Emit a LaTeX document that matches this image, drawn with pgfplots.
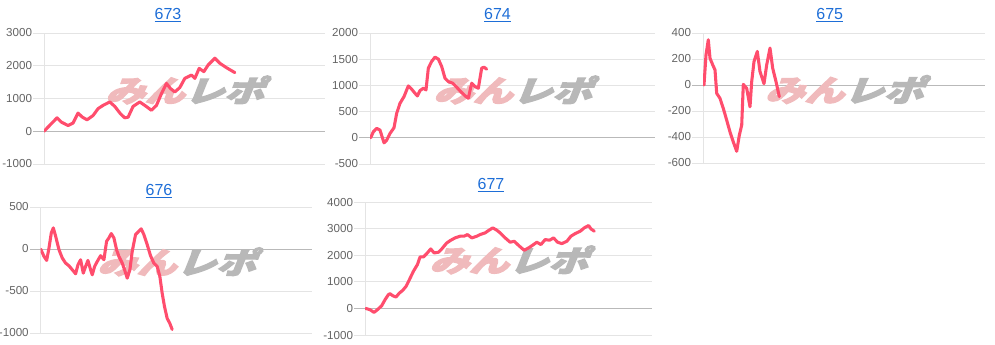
\documentclass[border=0pt]{standalone}
\usepackage{fontspec}
\setmainfont{Liberation Sans}
\newfontfamily\wm{Noto Sans CJK JP}[FakeSlant=0.3,FakeBold=4]
\usepackage{pgfplots}
\pgfplotsset{compat=1.18}
\definecolor{linec}{RGB}{255,77,109}
\definecolor{titlec}{RGB}{30,110,215}
\definecolor{gridc}{RGB}{228,228,228}
\definecolor{zeroc}{RGB}{185,185,185}
\definecolor{tickc}{RGB}{100,100,100}
\definecolor{wmpink}{RGB}{240,186,188}
\definecolor{wmgray}{RGB}{184,184,184}
\pgfplotsset{
  panel/.style={
    scale only axis,
    anchor=south west,
    axis y line=left, axis x line=none,
    axis line style={draw=gridc,-},
    xtick=\empty,
    ymajorgrids, major grid style={draw=gridc, line width=0.6pt},
    tick align=outside, major tick length=8pt,
    ytick style={draw=gridc, line width=0.6pt},
    yticklabel style={font=\fontsize{8.7}{10}\selectfont, text=tickc, inner sep=0.8pt},
    /pgf/number format/assume math mode=true,
    /pgf/number format/1000 sep={},
    scaled y ticks=false,
    extra y ticks={0}, extra y tick labels={},
    extra y tick style={major grid style={draw=zeroc, line width=0.7pt}, ytick style={draw=zeroc}},
  },
  curve/.style={color=linec, line width=2.3pt, line join=round, line cap=round, no markers},
}
\newcommand{\wmark}{\node[inner sep=0pt, xscale=1.06, yscale=0.8] at (rel axis cs:0.5,0.565) {\wm\bfseries\fontsize{28}{28}\selectfont\textcolor{wmpink}{みん}\textcolor{wmgray}{レポ}};}
\begin{document}
\begin{tikzpicture}
\useasboundingbox (0,0) rectangle (746.25pt,258pt);
\coordinate (pA) at (33pt,135pt);
\coordinate (pB) at (277.5pt,135pt);
\coordinate (pC) at (527.25pt,135.75pt);
\coordinate (pD) at (30.5pt,8.25pt);
\coordinate (pE) at (273.75pt,6.75pt);
% 673
\begin{axis}[panel, at={(pA)}, width=210.75pt, height=98.25pt,
  xmin=133, xmax=975, ymin=-1000, ymax=3000, ytick={-1000,0,1000,2000,3000}]
\wmark
\addplot[curve] coordinates {
(133,0)(172,410)(185,280)(205,175)(220,250)(235,555)(248,430)(262,350)(280,480)
(295,690)(310,790)(330,895)(345,760)(362,535)(375,410)(385,430)(400,760)(420,895)
(435,790)(455,640)(470,790)(485,1150)(500,1460)(512,1305)(525,1200)(540,1335)
(555,1615)(575,1715)(585,1615)(598,1920)(612,1820)(625,2025)(645,2230)(660,2075)
(680,1940)(705,1790)};
\end{axis}
% 674
\begin{axis}[panel, at={(pB)}, width=213.75pt, height=98.25pt,
  xmin=120, xmax=975, ymin=-500, ymax=2000, ytick={-500,0,500,1000,1500,2000}]
\wmark
\addplot[curve] coordinates {
(122,0)(130,115)(140,180)(150,147)(162,-96)(170,-45)(180,83)(192,192)(200,466)
(210,658)(222,786)(235,990)(245,927)(255,850)(262,799)(270,901)(280,946)(288,914)
(295,1329)(305,1457)(315,1540)(325,1502)(335,1361)(345,1137)(355,1073)(368,1042)
(380,965)(395,863)(408,786)(415,754)(425,1042)(435,978)(445,946)(455,1329)
(462,1348)(470,1310)};
\end{axis}
% 675
\begin{axis}[panel, at={(pC)}, width=211.5pt, height=97.5pt,
  xmin=703, xmax=985, ymin=-600, ymax=400, ytick={-600,-400,-200,0,200,400}]
\wmark
\addplot[curve] coordinates {
(704,0)(706,232)(708.3,348)(710,206)(712.7,155)(715,116)(716.7,-64)(720,-103)
(723.3,-180)(726.7,-271)(730,-361)(733.3,-438)(736.7,-510)(739.3,-387)(741.7,-309)
(743.3,5)(746.7,-26)(750,-168)(751.7,26)(754,180)(757.3,258)(760,103)(764,10)
(766.7,155)(770,284)(772.7,129)(776,26)(779.3,-90)};
\end{axis}
% 676
\begin{axis}[panel, at={(pD)}, width=203.5pt, height=94.5pt,
  xmin=120, xmax=935, ymin=-1000, ymax=500, ytick={-1000,-500,0,500}]
\wmark
\addplot[curve] coordinates {
(120,0)(130,-88)(138,-136)(145,12)(152,192)(158,251)(165,152)(175,-8)(185,-108)
(195,-168)(205,-200)(215,-247)(225,-295)(232,-188)(240,-128)(248,-287)(255,-208)
(262,-136)(270,-247)(275,-307)(282,-208)(290,-148)(300,-80)(310,-128)(318,92)
(325,132)(332,184)(340,132)(348,-8)(355,-88)(365,-168)(372,-247)(380,-347)
(388,-247)(395,-28)(405,172)(415,212)(422,240)(430,172)(440,52)(450,-80)
(460,-168)(470,-208)(478,-327)(485,-527)(492,-686)(500,-826)(508,-886)(515,-958)};
\end{axis}
% 677
\begin{axis}[panel, at={(pE)}, width=215.25pt, height=99.75pt,
  xmin=135, xmax=995, ymin=-1000, ymax=4000, ytick={-1000,0,1000,2000,3000,4000}]
\wmark
\addplot[curve] coordinates {
(137,0)(150,-50)(162,-150)(172,-50)(185,100)(195,327)(205,515)(210,553)(218,477)
(228,427)(238,578)(248,678)(258,829)(268,1080)(280,1394)(292,1646)(300,1935)
(310,1935)(320,2060)(332,2236)(342,2085)(355,2111)(365,2236)(380,2462)(392,2563)
(405,2651)(420,2714)(432,2714)(442,2776)(455,2651)(470,2714)(480,2776)(495,2839)
(505,2927)(518,3028)(530,2940)(540,2839)(555,2651)(570,2488)(582,2525)(598,2337)
(612,2186)(625,2274)(640,2400)(650,2488)(662,2400)(675,2588)(688,2563)(700,2651)
(712,2488)(725,2437)(740,2525)(752,2714)(765,2814)(780,2902)(792,3028)(805,3116)
(812,2990)(822,2902)};
\end{axis}
% titles
\node[anchor=base, text=titlec, font=\fontsize{12}{14}\selectfont] at (126pt,243.75pt) {\underline{673}};
\node[anchor=base, text=titlec, font=\fontsize{12}{14}\selectfont] at (373.1pt,243.75pt) {\underline{674}};
\node[anchor=base, text=titlec, font=\fontsize{12}{14}\selectfont] at (622.3pt,243.75pt) {\underline{675}};
\node[anchor=base, text=titlec, font=\fontsize{12}{14}\selectfont] at (119.25pt,111.75pt) {\underline{676}};
\node[anchor=base, text=titlec, font=\fontsize{12}{14}\selectfont] at (368.25pt,116pt) {\underline{677}};
\end{tikzpicture}
\end{document}
